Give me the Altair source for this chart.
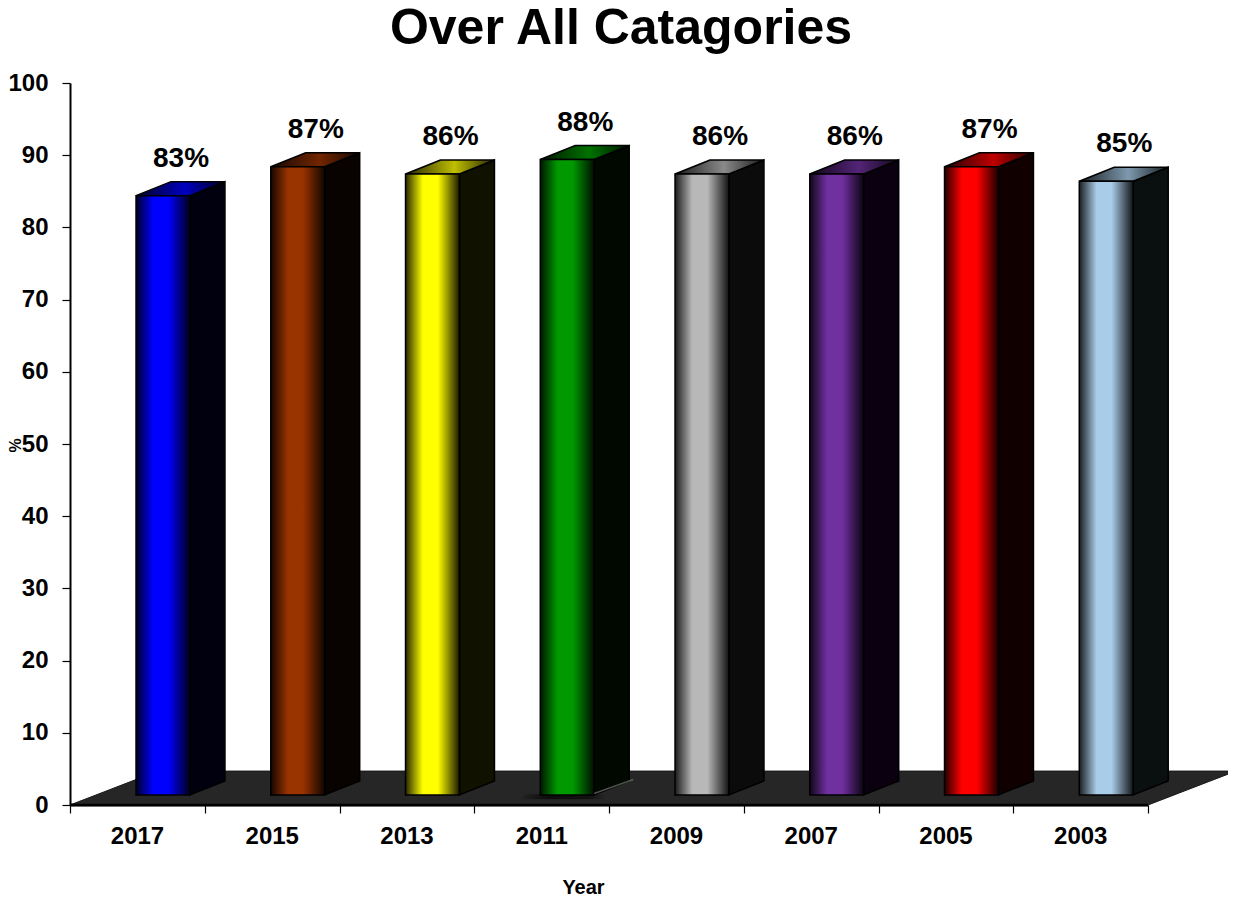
import altair as alt
import pandas as pd

years = ["2017", "2015", "2013", "2011", "2009", "2007", "2005", "2003"]
values = [83, 87, 86, 88, 86, 86, 87, 85]
colors = ["#0000ff", "#993300", "#ffff00", "#009900", "#b8b8b8", "#7030a0", "#ff0000", "#a9cce8"]
side_colors = ["#00000f", "#080200", "#111100", "#000800", "#0b0b0b", "#0a0010", "#100000", "#0a0f10"]

FONT = "Liberation Sans"
LIFT = 1.4        # bars stand slightly behind the front of the floor
BAR_START = 0.49  # in category units
BAR_W = 0.40
DEPTH_X = 0.26
DEPTH_Y = 1.94
FLOOR_X = 0.653
FLOOR_Y = 4.7

X = alt.Scale(domain=[0, 8], nice=False, zero=False)
Y = alt.Scale(domain=[0, 100], nice=False, zero=False)


def mix(hex_color, k):
    r, g, b = (int(hex_color[i:i + 2], 16) for i in (1, 3, 5))
    return "#%02x%02x%02x" % (int(r * k), int(g * k), int(b * k))


def grad(stops):
    return alt.Gradient(
        gradient="linear", x1=0, x2=1, y1=0, y2=0,
        stops=[alt.GradientStop(offset=o, color=c) for o, c in stops],
    )


layers = []

# Axes layer comes first so that the shared scales keep its axes
axis_df = pd.DataFrame({"x": [0, 8], "y": [0, 0]})
layers.append(
    alt.Chart(axis_df).mark_line(color="black", strokeWidth=2.5).encode(
        x=alt.X("x:Q", scale=X, axis=alt.Axis(
            values=list(range(9)), title="Year", grid=False,
            labelExpr="[" + ",".join(f"'{y}'" for y in years) + "][datum.value] || ''",
            labelOffset=67, labelFont=FONT, labelFontSize=24, labelFontWeight="bold",
            labelColor="black", labelPadding=11, labelOverlap=False, labelFlush=False,
            labelAngle=0,
            tickColor="black", tickSize=8, tickWidth=1.2,
            domainColor="black", domainWidth=1.5,
            titleFont=FONT, titleFontSize=20, titleFontWeight="bold", titleColor="black",
            titleX=513, titleY=88, titleBaseline="alphabetic",
        )),
        y=alt.Y("y:Q", scale=Y, axis=alt.Axis(
            values=list(range(0, 101, 10)), title="%", grid=False,
            labelFont=FONT, labelFontSize=24, labelFontWeight="bold", labelColor="black",
            labelPadding=14,
            tickColor="black", tickSize=8, tickWidth=1.2,
            domainColor="black", domainWidth=2,
            titleFont=FONT, titleFontSize=16, titleFontWeight="bold", titleColor="black",
            titleX=-50, titleY=362, titleBaseline="alphabetic",
        )),
    )
)

# Floor
floor_df = pd.DataFrame({
    "y": [0, FLOOR_Y],
    "x": [0, FLOOR_X],
    "x2": [8, 8 + FLOOR_X],
})
layers.append(
    alt.Chart(floor_df).mark_area(orient="horizontal", color="#262626", stroke="#1a1a1a", strokeWidth=1).encode(
        x=alt.X("x:Q", scale=X),
        x2="x2:Q",
        y=alt.Y("y:Q", scale=Y),
    )
)
# Front edge of the floor over the axis line
layers.append(
    alt.Chart(axis_df).mark_line(color="black", strokeWidth=2.5).encode(
        x=alt.X("x:Q", scale=X), y=alt.Y("y:Q", scale=Y),
    )
)

# Smudge of shadow on the floor under the 2011 bar
smudge = pd.DataFrame({"y": [LIFT - 0.6, LIFT + 0.1], "x": [3.32, 3.39], "x2": [3.98, 3.98]})
layers.append(
    alt.Chart(smudge).mark_area(
        orient="horizontal",
        fill=grad([(0, "#262626"), (0.35, "#0c0c0c"), (0.8, "#111111"), (1, "#262626")]),
    ).encode(x=alt.X("x:Q", scale=X), x2="x2:Q", y=alt.Y("y:Q", scale=Y))
)

for i, (year, v, c, sc) in enumerate(zip(years, values, colors, side_colors)):
    x0 = i + BAR_START
    x1 = x0 + BAR_W
    top = v + LIFT
    side = pd.DataFrame({
        "x": [x1, x1 + DEPTH_X],
        "y": [LIFT, LIFT + DEPTH_Y],
        "y2": [top, top + DEPTH_Y],
    })
    layers.append(
        alt.Chart(side).mark_area(orient="vertical", color=sc, stroke="black", strokeWidth=1.5).encode(
            x=alt.X("x:Q", scale=X),
            y=alt.Y("y:Q", scale=Y),
            y2="y2:Q",
        )
    )
    roof = pd.DataFrame({
        "y": [top, top + DEPTH_Y],
        "x": [x0, x0 + DEPTH_X],
        "x2": [x1, x1 + DEPTH_X],
    })
    layers.append(
        alt.Chart(roof).mark_area(
            orient="horizontal", stroke="black", strokeWidth=1.5,
            fill=grad([(0, mix(c, 0.15)), (0.55, mix(c, 0.75)), (1, mix(c, 0.15))]),
        ).encode(
            x=alt.X("x:Q", scale=X),
            x2="x2:Q",
            y=alt.Y("y:Q", scale=Y),
        )
    )
    front = pd.DataFrame({"x": [x0], "x2": [x1], "y": [LIFT], "y2": [top]})
    layers.append(
        alt.Chart(front).mark_rect(
            stroke="black", strokeWidth=1.5,
            fill=grad([(0, mix(c, 0.15)), (0.32, c), (0.6, c), (1, mix(c, 0.1))]),
        ).encode(
            x=alt.X("x:Q", scale=X),
            x2="x2:Q",
            y=alt.Y("y:Q", scale=Y),
            y2="y2:Q",
        )
    )

# Pale glint along the foot of the 2011 bar's side
glint = pd.DataFrame({
    "x": [3 + BAR_START + BAR_W, 3 + BAR_START + BAR_W + DEPTH_X + 0.03],
    "y": [LIFT + 0.2, LIFT + DEPTH_Y + 0.2],
})
layers.append(
    alt.Chart(glint).mark_line(strokeWidth=1.5, color="#707070", opacity=0.7).encode(
        x=alt.X("x:Q", scale=X), y=alt.Y("y:Q", scale=Y),
    )
)

labels = pd.DataFrame({
    "x": [i + BAR_START + 0.334 for i in range(len(years))],
    "y": [v + LIFT + 5.1 for v in values],
    "t": [f"{v}%" for v in values],
})
layers.append(
    alt.Chart(labels).mark_text(
        font=FONT, fontSize=28, fontWeight="bold", color="black", baseline="middle", align="center",
    ).encode(
        x=alt.X("x:Q", scale=X),
        y=alt.Y("y:Q", scale=Y),
        text="t:N",
    )
)

chart = alt.layer(*layers).properties(
    width=1078,
    height=722,
    autosize=alt.AutoSizeParams(type="none"),
    padding={"left": 62, "top": 75, "right": 80, "bottom": 93},
    title=alt.TitleParams(
        "Over All Catagories", font=FONT, fontSize=50, fontWeight="bold", color="black",
        anchor="middle", frame="group", dx=12, offset=17,
    ),
).configure_view(stroke=None)

chart.save("out.html", embed_options={"renderer": "svg", "actions": False})
